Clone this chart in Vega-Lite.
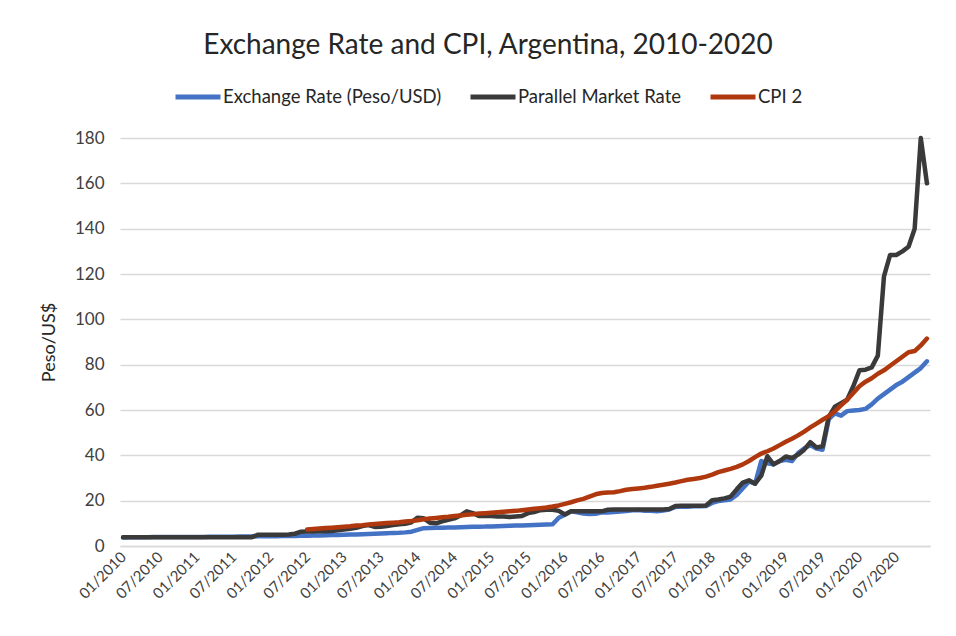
{
  "$schema": "https://vega.github.io/schema/vega-lite/v6.json",
  "autosize": "none",
  "width": 810,
  "height": 408,
  "padding": {"left": 120, "top": 138, "right": 26, "bottom": 90},
  "background": "white",
  "title": {
    "text": "Exchange Rate and CPI, Argentina, 2010-2020",
    "frame": "group",
    "anchor": "middle",
    "dx": -37,
    "offset": 12,
    "font": "Lato",
    "fontSize": 28,
    "fontWeight": "normal",
    "color": "#262626"
  },
  "data": {
    "values": [
      {"m":"01/2010","er":3.80,"pm":3.9},{"m":"02/2010","er":3.86,"pm":3.9},{"m":"03/2010","er":3.88,"pm":3.9},{"m":"04/2010","er":3.88,"pm":3.9},{"m":"05/2010","er":3.90,"pm":3.9},{"m":"06/2010","er":3.93,"pm":3.9},{"m":"07/2010","er":3.93,"pm":3.9},{"m":"08/2010","er":3.94,"pm":3.9},{"m":"09/2010","er":3.95,"pm":3.9},{"m":"10/2010","er":3.96,"pm":3.9},{"m":"11/2010","er":3.97,"pm":3.9},{"m":"12/2010","er":3.98,"pm":3.9},
      {"m":"01/2011","er":4.00,"pm":3.9},{"m":"02/2011","er":4.02,"pm":3.9},{"m":"03/2011","er":4.04,"pm":3.9},{"m":"04/2011","er":4.06,"pm":3.9},{"m":"05/2011","er":4.08,"pm":3.9},{"m":"06/2011","er":4.10,"pm":3.9},{"m":"07/2011","er":4.13,"pm":3.9},{"m":"08/2011","er":4.17,"pm":3.9},{"m":"09/2011","er":4.20,"pm":3.9},{"m":"10/2011","er":4.22,"pm":3.9},{"m":"11/2011","er":4.27,"pm":5.0},{"m":"12/2011","er":4.29,"pm":5.0},
      {"m":"01/2012","er":4.33,"pm":5.0},{"m":"02/2012","er":4.35,"pm":5.0},{"m":"03/2012","er":4.37,"pm":5.0},{"m":"04/2012","er":4.41,"pm":5.1},{"m":"05/2012","er":4.45,"pm":5.4},{"m":"06/2012","er":4.50,"pm":6.3},{"m":"07/2012","er":4.56,"pm":6.4,"cpi":7.3},{"m":"08/2012","er":4.61,"pm":6.4,"cpi":7.5},{"m":"09/2012","er":4.67,"pm":6.5,"cpi":7.7},{"m":"10/2012","er":4.73,"pm":6.5,"cpi":7.9},{"m":"11/2012","er":4.80,"pm":6.6,"cpi":8.1},{"m":"12/2012","er":4.88,"pm":6.9,"cpi":8.3},
      {"m":"01/2013","er":4.95,"pm":7.3,"cpi":8.5},{"m":"02/2013","er":5.03,"pm":7.6,"cpi":8.7},{"m":"03/2013","er":5.12,"pm":8.0,"cpi":9.0},{"m":"04/2013","er":5.18,"pm":8.8,"cpi":9.2},{"m":"05/2013","er":5.28,"pm":9.2,"cpi":9.5},{"m":"06/2013","er":5.39,"pm":8.4,"cpi":9.7},{"m":"07/2013","er":5.51,"pm":8.5,"cpi":9.9},{"m":"08/2013","er":5.67,"pm":8.8,"cpi":10.1},{"m":"09/2013","er":5.79,"pm":9.2,"cpi":10.3},{"m":"10/2013","er":5.85,"pm":9.6,"cpi":10.5},{"m":"11/2013","er":6.01,"pm":9.8,"cpi":10.8},{"m":"12/2013","er":6.32,"pm":10.5,"cpi":11.0},
      {"m":"01/2014","er":7.10,"pm":12.5,"cpi":11.4},{"m":"02/2014","er":7.86,"pm":12.2,"cpi":11.8},{"m":"03/2014","er":7.94,"pm":10.3,"cpi":12.1},{"m":"04/2014","er":8.00,"pm":10.0,"cpi":12.4},{"m":"05/2014","er":8.04,"pm":10.9,"cpi":12.7},{"m":"06/2014","er":8.13,"pm":11.6,"cpi":12.9},{"m":"07/2014","er":8.13,"pm":12.2,"cpi":13.2},{"m":"08/2014","er":8.30,"pm":13.5,"cpi":13.5},{"m":"09/2014","er":8.42,"pm":15.3,"cpi":13.8},{"m":"10/2014","er":8.48,"pm":14.5,"cpi":14.0},{"m":"11/2014","er":8.53,"pm":13.2,"cpi":14.3},{"m":"12/2014","er":8.55,"pm":13.2,"cpi":14.5},
      {"m":"01/2015","er":8.65,"pm":13.2,"cpi":14.7},{"m":"02/2015","er":8.72,"pm":13.0,"cpi":14.9},{"m":"03/2015","er":8.82,"pm":13.0,"cpi":15.1},{"m":"04/2015","er":8.90,"pm":12.8,"cpi":15.3},{"m":"05/2015","er":8.99,"pm":13.0,"cpi":15.5},{"m":"06/2015","er":9.09,"pm":13.2,"cpi":15.8},{"m":"07/2015","er":9.18,"pm":14.5,"cpi":16.1},{"m":"08/2015","er":9.27,"pm":15.0,"cpi":16.4},{"m":"09/2015","er":9.37,"pm":15.8,"cpi":16.7},{"m":"10/2015","er":9.48,"pm":16.0,"cpi":17.0},{"m":"11/2015","er":9.60,"pm":16.0,"cpi":17.4},{"m":"12/2015","er":12.50,"pm":15.5,"cpi":17.9},
      {"m":"01/2016","er":13.80,"pm":13.9,"cpi":18.6},{"m":"02/2016","er":15.30,"pm":15.3,"cpi":19.3},{"m":"03/2016","er":14.90,"pm":15.3,"cpi":20.1},{"m":"04/2016","er":14.30,"pm":15.3,"cpi":20.8},{"m":"05/2016","er":14.10,"pm":15.3,"cpi":21.8},{"m":"06/2016","er":14.20,"pm":15.3,"cpi":22.8},{"m":"07/2016","er":14.90,"pm":15.3,"cpi":23.4},{"m":"08/2016","er":14.80,"pm":16.0,"cpi":23.6},{"m":"09/2016","er":15.00,"pm":16.1,"cpi":23.7},{"m":"10/2016","er":15.20,"pm":16.1,"cpi":24.2},{"m":"11/2016","er":15.40,"pm":16.1,"cpi":24.8},{"m":"12/2016","er":15.80,"pm":16.1,"cpi":25.1},
      {"m":"01/2017","er":15.90,"pm":16.1,"cpi":25.4},{"m":"02/2017","er":15.60,"pm":16.1,"cpi":25.7},{"m":"03/2017","er":15.50,"pm":16.1,"cpi":26.1},{"m":"04/2017","er":15.30,"pm":16.1,"cpi":26.6},{"m":"05/2017","er":15.70,"pm":16.1,"cpi":27.0},{"m":"06/2017","er":16.10,"pm":16.3,"cpi":27.5},{"m":"07/2017","er":17.20,"pm":17.6,"cpi":28.0},{"m":"08/2017","er":17.40,"pm":17.8,"cpi":28.6},{"m":"09/2017","er":17.30,"pm":17.8,"cpi":29.2},{"m":"10/2017","er":17.50,"pm":17.8,"cpi":29.6},{"m":"11/2017","er":17.50,"pm":17.8,"cpi":30.0},{"m":"12/2017","er":17.60,"pm":17.9,"cpi":30.6},
      {"m":"01/2018","er":19.00,"pm":20.2,"cpi":31.5},{"m":"02/2018","er":19.80,"pm":20.5,"cpi":32.6},{"m":"03/2018","er":20.20,"pm":21.0,"cpi":33.3},{"m":"04/2018","er":20.50,"pm":21.8,"cpi":34.0},{"m":"05/2018","er":22.50,"pm":25.0,"cpi":34.9},{"m":"06/2018","er":25.50,"pm":28.0,"cpi":36.0},{"m":"07/2018","er":28.50,"pm":29.0,"cpi":37.5},{"m":"08/2018","er":27.50,"pm":27.5,"cpi":39.2},{"m":"09/2018","er":37.50,"pm":31.0,"cpi":40.8},{"m":"10/2018","er":36.50,"pm":39.6,"cpi":41.8},{"m":"11/2018","er":36.00,"pm":36.0,"cpi":43.0},{"m":"12/2018","er":37.50,"pm":37.5,"cpi":44.5},
      {"m":"01/2019","er":38.00,"pm":39.5,"cpi":46.0},{"m":"02/2019","er":37.50,"pm":38.8,"cpi":47.3},{"m":"03/2019","er":41.00,"pm":40.3,"cpi":48.8},{"m":"04/2019","er":43.00,"pm":42.5,"cpi":50.5},{"m":"05/2019","er":44.50,"pm":45.8,"cpi":52.3},{"m":"06/2019","er":43.00,"pm":43.5,"cpi":54.0},{"m":"07/2019","er":42.50,"pm":44.0,"cpi":55.7},{"m":"08/2019","er":56.00,"pm":57.0,"cpi":57.3},{"m":"09/2019","er":58.50,"pm":61.5,"cpi":59.5},{"m":"10/2019","er":57.50,"pm":63.0,"cpi":62.0},{"m":"11/2019","er":59.50,"pm":64.5,"cpi":64.5},{"m":"12/2019","er":59.80,"pm":70.5,"cpi":67.5},
      {"m":"01/2020","er":60.00,"pm":77.5,"cpi":70.5},{"m":"02/2020","er":60.50,"pm":77.8,"cpi":72.5},{"m":"03/2020","er":62.50,"pm":78.8,"cpi":74.0},{"m":"04/2020","er":65.00,"pm":84.0,"cpi":76.0},{"m":"05/2020","er":67.00,"pm":119.0,"cpi":77.5},{"m":"06/2020","er":69.00,"pm":128.4,"cpi":79.5},{"m":"07/2020","er":71.00,"pm":128.4,"cpi":81.5},{"m":"08/2020","er":72.50,"pm":130.0,"cpi":83.5},{"m":"09/2020","er":74.50,"pm":132.0,"cpi":85.5},{"m":"10/2020","er":76.50,"pm":140.0,"cpi":86.0},{"m":"11/2020","er":78.50,"pm":180.0,"cpi":88.5},{"m":"12/2020","er":81.50,"pm":160.0,"cpi":91.5}
    ]
  },
  "transform": [
    {"fold": ["er", "pm", "cpi"], "as": ["series", "value"]}
  ],
  "mark": {"type": "line", "strokeWidth": 4.5, "strokeCap": "round", "strokeJoin": "round"},
  "encoding": {
    "x": {
      "field": "m",
      "type": "ordinal",
      "sort": null,
      "scale": {"type": "point", "padding": 0.5},
      "axis": {
        "title": null,
        "values": ["01/2010","07/2010","01/2011","07/2011","01/2012","07/2012","01/2013","07/2013","01/2014","07/2014","01/2015","07/2015","01/2016","07/2016","01/2017","07/2017","01/2018","07/2018","01/2019","07/2019","01/2020","07/2020"],
        "labelAngle": -45,
        "labelAlign": "right",
        "labelBaseline": "middle",
        "labelPadding": 8,
        "labelFont": "Lato",
        "labelFontSize": 15,
        "labelColor": "#404040",
        "ticks": false,
        "domain": true,
        "domainColor": "#d9d9d9",
        "domainWidth": 1.3,
        "grid": false
      }
    },
    "y": {
      "field": "value",
      "type": "quantitative",
      "scale": {"domain": [0, 180], "nice": false},
      "axis": {
        "title": "Peso/US$",
        "titleFont": "Lato",
        "titleFontSize": 18,
        "titleFontWeight": "normal",
        "titleColor": "#262626",
        "titlePadding": 16,
        "values": [0, 20, 40, 60, 80, 100, 120, 140, 160, 180],
        "labelFont": "Lato",
        "labelFontSize": 17,
        "labelColor": "#404040",
        "labelPadding": 16,
        "ticks": false,
        "domain": false,
        "grid": true,
        "gridColor": "#d9d9d9",
        "gridWidth": 1.3
      }
    },
    "color": {
      "field": "series",
      "type": "nominal",
      "scale": {"domain": ["er", "pm", "cpi"], "range": ["#4472C4", "#3A3A3A", "#B0380E"]},
      "legend": {
        "title": null,
        "orient": "none",
        "direction": "horizontal",
        "legendX": 53,
        "legendY": -66,
        "padding": 0,
        "symbolType": "stroke",
        "symbolSize": 2025,
        "symbolStrokeWidth": 5,
        "columnPadding": 18,
        "labelOffset": 0,
        "labelFont": "Lato",
        "labelFontSize": 18.5,
        "labelColor": "#262626",
        "labelLimit": 400,
        "labelExpr": "datum.value == 'er' ? 'Exchange Rate (Peso/USD)' : datum.value == 'pm' ? 'Parallel Market Rate' : 'CPI 2'"
      }
    }
  },
  "config": {
    "view": {"stroke": null}
  }
}
